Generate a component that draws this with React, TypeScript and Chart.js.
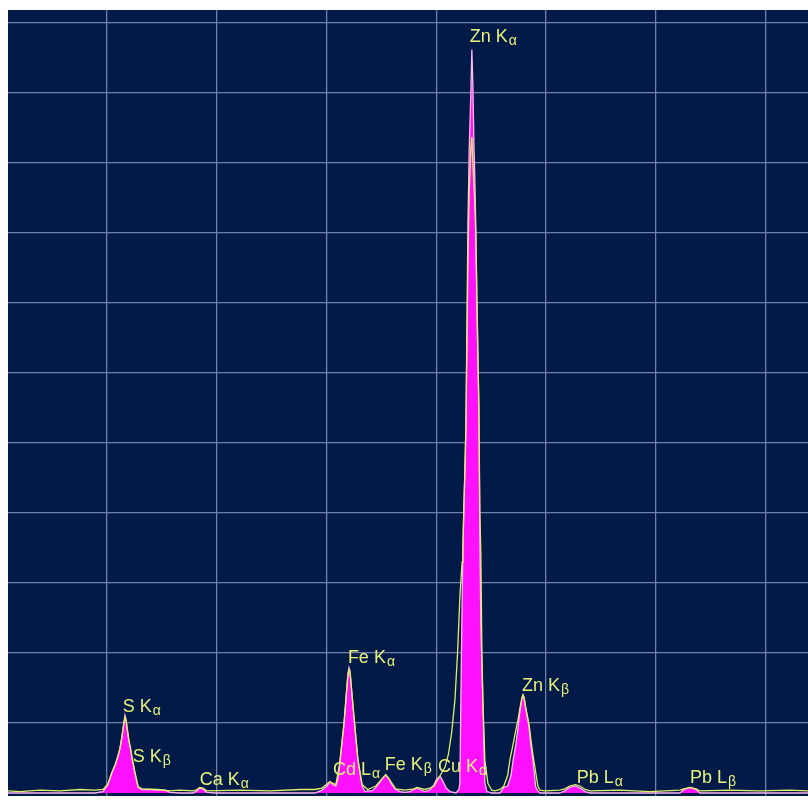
import React, { useEffect, useRef } from "react";
import { Chart, registerables } from "chart.js";

Chart.register(...registerables);

// Energy axis (keV) and counts (arbitrary units, 1 unit per horizontal grid line)
const magentaKeV = [
  0.2, 1.78, 1.93, 2.02, 2.09, 2.15, 2.2, 2.24, 2.27, 2.31, 2.33, 2.35, 2.38, 2.4, 2.44, 2.46, 2.51, 2.57,
  2.64, 2.78, 2.93, 3.06, 3.15, 3.33, 3.57, 3.64, 3.69, 3.75, 3.82, 3.97, 5.79, 5.92, 6.01, 6.06, 6.12,
  6.17, 6.21, 6.24, 6.28, 6.32, 6.35, 6.39, 6.41, 6.43, 6.46, 6.5, 6.54, 6.57, 6.61, 6.65, 6.7, 6.75,
  6.83, 6.9, 6.97, 7.03, 7.08, 7.14, 7.19, 7.26, 7.34, 7.43, 7.52, 7.59, 7.65, 7.7, 7.79, 7.88, 7.96,
  8.01, 8.07, 8.12, 8.18, 8.25, 8.36, 8.412, 8.43, 8.448, 8.466, 8.485, 8.503, 8.521, 8.539, 8.557,
  8.576, 8.6, 8.63, 8.648, 8.667, 8.685, 8.703, 8.721, 8.74, 8.758, 8.776, 8.794, 8.812, 8.849, 8.885,
  8.922, 9.01, 9.16, 9.23, 9.3, 9.36, 9.4, 9.45, 9.49, 9.52, 9.56, 9.58, 9.6, 9.63, 9.69, 9.72, 9.76,
  9.81, 9.85, 9.89, 10.25, 10.34, 10.43, 10.53, 10.62, 10.71, 10.8, 12.44, 12.51, 12.62, 12.73, 12.8,
  14.77,
];
const magentaCounts = [
  0, 0, 0.02, 0.12, 0.29, 0.4, 0.52, 0.64, 0.78, 1.0, 1.11, 1.05, 0.88, 0.76, 0.6, 0.5, 0.29, 0.08,
  0.05, 0.05, 0.04, 0.04, 0.01, 0, 0, 0.03, 0.07, 0.06, 0.01, 0, 0, 0.04, 0.1, 0.16, 0.12,
  0.1, 0.2, 0.4, 0.7, 1.0, 1.3, 1.7, 1.79, 1.74, 1.45, 1.1, 0.76, 0.5, 0.28, 0.1, 0.02, 0.03,
  0.03, 0.08, 0.15, 0.22, 0.26, 0.2, 0.12, 0.05, 0.02, 0.01, 0.02, 0.05, 0.07, 0.05, 0.02, 0.04, 0.12,
  0.2, 0.24, 0.17, 0.07, 0.02, 0, 0.05, 0.14, 1.3, 2.45, 3.5, 4.1, 4.6, 5.2, 6.6,
  8.1, 9.2, 10.0, 10.62, 10.1, 9.3, 8.76, 8.04, 7.04, 6.3, 5.5, 3.6, 2.4, 1.3, 0.15,
  0.02, 0, 0, 0.08, 0.1, 0.25, 0.47, 0.7, 0.94, 1.15, 1.35, 1.4, 1.36, 1.2, 0.94, 0.7, 0.47,
  0.09, 0.03, 0, 0, 0.03, 0.08, 0.1, 0.07, 0.02, 0, 0, 0.05, 0.08, 0.05, 0,
  0,
];

const envelopeKeV = [
  0.2, 0.42, 0.78, 1.14, 1.51, 1.78, 1.93, 2.02, 2.09, 2.15, 2.2, 2.24, 2.27, 2.31, 2.33, 2.35, 2.38,
  2.4, 2.44, 2.46, 2.51, 2.57, 2.64, 2.93, 3.15, 3.33, 3.57, 3.64, 3.69, 3.75, 3.82, 4.42, 4.97, 5.52,
  5.79, 5.92, 6.06, 6.17, 6.24, 6.32, 6.39, 6.41, 6.43, 6.5, 6.57, 6.65, 6.75, 6.9, 7.03, 7.08, 7.14,
  7.26, 7.43, 7.59, 7.65, 7.79, 7.88, 7.96, 8.07, 8.16, 8.22, 8.28, 8.34, 8.39, 8.43, 8.47, 8.485,
  8.503, 8.521, 8.539, 8.557, 8.576, 8.6, 8.63, 8.648, 8.667, 8.685, 8.703, 8.72, 8.74, 8.776, 8.794,
  8.812, 8.831, 8.849, 8.885, 8.94, 9.01, 9.07, 9.16, 9.23, 9.3, 9.34, 9.4, 9.45, 9.49, 9.52, 9.56,
  9.58, 9.6, 9.63, 9.69, 9.72, 9.76, 9.81, 9.85, 9.89, 9.98, 10.25, 10.34, 10.43, 10.53, 10.62, 10.71,
  10.8, 11.34, 11.89, 12.44, 12.51, 12.62, 12.73, 12.8, 13.35, 13.89, 14.44, 14.77,
];
const envelopeCounts = [
  0.03, 0.02, 0.04, 0.03, 0.05, 0.04, 0.05, 0.13, 0.29, 0.4, 0.52, 0.64, 0.78, 1.0, 1.08, 1.03, 0.86,
  0.76, 0.6, 0.5, 0.3, 0.09, 0.06, 0.05, 0.03, 0.04, 0.03, 0.05, 0.08, 0.07, 0.03, 0.04, 0.03, 0.05,
  0.05, 0.07, 0.16, 0.12, 0.42, 1.0, 1.68, 1.76, 1.72, 1.1, 0.5, 0.12, 0.05, 0.1, 0.22, 0.26, 0.2,
  0.06, 0.04, 0.06, 0.08, 0.05, 0.07, 0.1, 0.25, 0.37, 0.55, 0.86, 1.33, 2.04, 2.8, 3.3, 3.5,
  4.1, 4.6, 5.2, 6.3, 7.6, 8.6, 9.2, 9.37, 9.0, 8.7, 8.4, 8.0, 7.0, 5.5, 4.0,
  3.4, 2.0, 1.33, 0.47, 0.14, 0.04, 0.03, 0.05, 0.1, 0.25, 0.47, 0.7, 0.9, 1.05, 1.2, 1.36,
  1.4, 1.36, 1.22, 0.98, 0.78, 0.55, 0.3, 0.1, 0.04, 0.03, 0.04, 0.06, 0.1, 0.12, 0.1, 0.05,
  0.03, 0.04, 0.02, 0.04, 0.06, 0.08, 0.06, 0.03, 0.04, 0.03, 0.04, 0.03,
];

// Peak labels: element + line, Greek subscript, anchor (keV, counts)
const labelMain = ["Zn K", "S K", "S K", "Ca K", "Fe K", "Cd L", "Fe K", "Cu K", "Zn K", "Pb L", "Pb L"];
const labelSub = ["α", "α", "β", "α", "α", "α", "β", "α", "β", "α", "β"];
const labelKeV = [8.61, 2.29, 2.47, 3.69, 6.39, 6.12, 7.06, 8.03, 9.56, 10.56, 12.62];
const labelCounts = [10.73, 1.157, 0.443, 0.114, 1.857, 0.257, 0.329, 0.3, 1.457, 0.143, 0.143];

const xGridTicks = [2, 4, 6, 8, 10, 12, 14];
const yGridTicks = [1, 2, 3, 4, 5, 6, 7, 8, 9, 10, 11];

export default function App() {
  const ref = useRef<HTMLCanvasElement | null>(null);

  useEffect(() => {
    if (!ref.current) return;

    const bgPlugin = {
      id: "plotBg",
      beforeDraw(chart: any) {
        const { ctx, chartArea } = chart;
        ctx.save();
        ctx.fillStyle = "#011a48";
        ctx.fillRect(chartArea.left, chartArea.top, chartArea.right - chartArea.left, chartArea.bottom - chartArea.top);
        ctx.restore();
      },
    };

    const labelPlugin = {
      id: "peakLabels",
      afterDatasetsDraw(chart: any) {
        const { ctx } = chart;
        const xs = chart.scales.x;
        const ys = chart.scales.y;
        ctx.save();
        ctx.fillStyle = "#e8f27a";
        ctx.textBaseline = "alphabetic";
        ctx.textAlign = "left";
        for (let i = 0; i < labelMain.length; i++) {
          const px = xs.getPixelForValue(labelKeV[i]);
          const py = ys.getPixelForValue(labelCounts[i]);
          ctx.font = "18px 'Liberation Sans', Arial, sans-serif";
          ctx.fillText(labelMain[i], px, py);
          const w = ctx.measureText(labelMain[i]).width;
          ctx.font = "14px 'Liberation Sans', Arial, sans-serif";
          ctx.fillText(labelSub[i], px + w + 1, py + 3);
        }
        ctx.restore();
      },
    };

    const chart = new Chart(ref.current, {
      type: "line",
      data: {
        datasets: [
          {
            label: "envelope",
            data: envelopeKeV.map((x, i) => ({ x, y: envelopeCounts[i] })),
            borderColor: "#e2ee6a",
            borderWidth: 1.3,
            pointRadius: 0,
            fill: false,
            tension: 0,
            order: 0,
          },
          {
            label: "spectrum",
            data: magentaKeV.map((x, i) => ({ x, y: magentaCounts[i] })),
            borderColor: "#ffb8f2",
            backgroundColor: "#ff10ff",
            borderWidth: 1.3,
            pointRadius: 0,
            fill: "origin",
            tension: 0,
            order: 1,
          },
        ],
      },
      options: {
        animation: false,
        responsive: false,
        maintainAspectRatio: false,
        layout: { padding: { left: 8, top: 10, right: 0, bottom: 6 } },
        plugins: { legend: { display: false }, tooltip: { enabled: false } },
        scales: {
          x: {
            type: "linear",
            min: 0.2,
            max: 14.77,
            afterBuildTicks: (scale: any) => {
              scale.ticks = xGridTicks.map((v) => ({ value: v }));
            },
            ticks: { display: false },
            border: { display: false },
            grid: { color: "#7080a8", lineWidth: 1.3, drawTicks: false },
          },
          y: {
            type: "linear",
            min: -0.043,
            max: 11.186,
            afterBuildTicks: (scale: any) => {
              scale.ticks = yGridTicks.map((v) => ({ value: v }));
            },
            ticks: { display: false },
            border: { display: false },
            grid: { color: "#7080a8", lineWidth: 1.3, drawTicks: false },
          },
        },
      },
      plugins: [bgPlugin, labelPlugin],
    });

    return () => chart.destroy();
  }, []);

  return (
    <div style={{ position: "fixed", left: 0, top: 0, width: 808, height: 802, background: "#ffffff" }}>
      <canvas ref={ref} width={808} height={802} style={{ display: "block", width: 808, height: 802 }} />
    </div>
  );
}
